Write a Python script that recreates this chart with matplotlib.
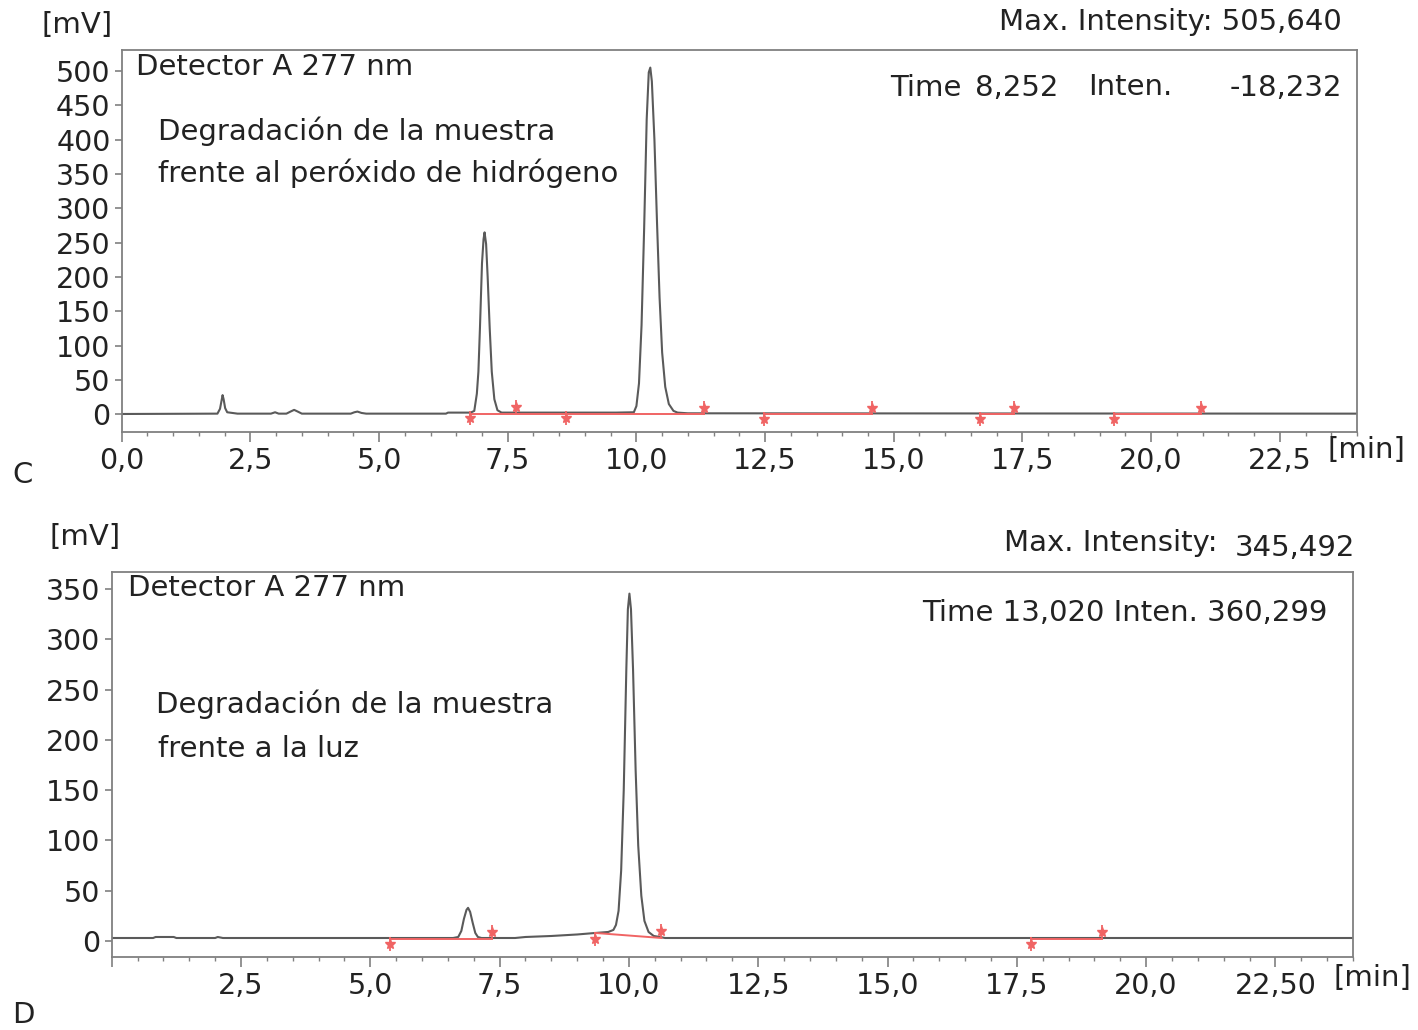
import matplotlib
matplotlib.use("Agg")
import matplotlib.pyplot as plt
import matplotlib.transforms as mtransforms
from matplotlib.ticker import MultipleLocator

# ---- panel C: peroxide degradation ----
t_c = [0.0, 1.86, 1.91, 1.94, 1.96, 1.98, 2.01, 2.05, 2.15, 2.25, 2.9, 2.98, 3.05, 3.2,
       3.28, 3.35, 3.42, 3.5, 4.45, 4.52, 4.58, 4.66, 4.75, 6.3, 6.34, 6.78, 6.85, 6.90,
       6.93, 6.96, 7.0, 7.03, 7.05, 7.08, 7.11, 7.15, 7.19, 7.24, 7.30, 7.38, 9.6, 9.95,
       10.0, 10.05, 10.1, 10.15, 10.2, 10.24, 10.27, 10.3, 10.35, 10.4, 10.45, 10.5, 10.56,
       10.63, 10.72, 10.8, 11.0, 24.0]
mv_c = [0.5, 1, 8, 20, 28, 22, 9, 3, 2, 1, 1, 3, 1, 1,
        4, 6.5, 4, 1, 1, 3, 4, 2, 1, 1, 2.5, 2.5, 5, 30,
        62, 125, 220, 255, 265, 248, 200, 125, 62, 22, 6, 2.5, 2.5, 3,
        12, 45, 130, 270, 430, 498, 505, 485, 400, 280, 170, 90, 40,
        15, 5, 2.5, 1.5, 1.0]
red_c_segments = [(6.77, 11.31), (12.47, 14.58), (16.67, 17.34), (19.28, 20.96)]
red_c_level = [0.0, 0.0, 0.0, 0.0]
start_c = [6.77, 8.63, 12.47, 16.67, 19.28]
end_c = [7.67, 11.31, 14.58, 17.34, 20.96]
xlabels_c = ["0,0", "2,5", "5,0", "7,5", "10,0", "12,5", "15,0", "17,5", "20,0", "22,5"]
yticks_c = [0, 50, 100, 150, 200, 250, 300, 350, 400, 450, 500]

# ---- panel D: light degradation ----
t_d = [0.0, 0.8, 0.85, 1.2, 1.25, 2.0, 2.05, 2.15, 6.6, 6.7, 6.76,
       6.81, 6.86, 6.89, 6.93, 6.98, 7.03, 7.08, 7.15, 7.8, 8.0, 8.5, 9.0, 9.35, 9.6, 9.7,
       9.75, 9.8, 9.85, 9.9, 9.95, 9.98, 10.01, 10.04, 10.08, 10.13, 10.18, 10.24, 10.3,
       10.38, 10.48, 10.6, 10.7, 24.0]
mv_d = [3, 3, 4, 4, 3, 3, 4, 3, 3, 4, 10,
        22, 31, 33, 29, 18, 8, 4, 3, 3, 4, 5, 6.5, 8, 9, 11,
        16, 30, 70, 150, 270, 330, 345.5, 330, 270, 170, 95, 45, 20,
        9, 5, 4, 3, 3]
red_d_segments = [(5.38, 7.35), (9.35, 10.63), (17.77, 19.14)]
red_d_start_level = [2.0, 8.0, 2.0]
red_d_end_level = [2.0, 3.0, 2.0]
start_d = [5.38, 9.35, 17.77]
end_d = [7.35, 10.63, 19.14]
xlabels_d = ["", "2,5", "5,0", "7,5", "10,0", "12,5", "15,0", "17,5", "20,0", "22,50"]
yticks_d = [0, 50, 100, 150, 200, 250, 300, 350]

W, H = 1418, 1030
fig = plt.figure(figsize=(W / 100, H / 100), dpi=100)
plt.rcParams['font.family'] = ['DejaVu Sans']

TRACE = "#5a5a5a"
RED = "#f06464"
SPINE = "#808080"
TXT = "#222222"
FS = 20.5


def px(x, y):
    return x / W, 1 - y / H


def style_axes(ax, ylim, yticks, xlabels):
    ax.set_xlim(0, 24.0)
    ax.set_ylim(*ylim)
    ax.set_xticks([2.5 * i for i in range(len(xlabels))])
    ax.set_xticklabels(xlabels)
    ax.xaxis.set_minor_locator(MultipleLocator(0.5))
    ax.set_yticks(yticks)
    ax.set_yticklabels([str(v) for v in yticks])
    for s in ax.spines.values():
        s.set_color(SPINE)
        s.set_linewidth(1.3)
    ax.tick_params(axis="x", which="major", length=7, width=1.2, color=SPINE,
                   labelsize=FS, labelcolor=TXT, pad=4)
    ax.tick_params(axis="x", which="minor", length=3, width=1, color=SPINE)
    ax.tick_params(axis="y", which="major", length=5, width=1.2, color=SPINE,
                   labelsize=FS, labelcolor=TXT, pad=3)


def draw_marks(ax, times, t, mv, up):
    off = mtransforms.offset_copy(ax.transData, fig=fig, x=0, y=(4 if up else -4), units="points")
    ys = []
    for tm in times:
        j = min(range(len(t)), key=lambda k: abs(t[k] - tm))
        ys.append(min(mv[j], 8))
    ax.plot(times, ys, linestyle="none", marker="|", markersize=10, color=RED,
            markeredgewidth=1.3, transform=off, zorder=4, clip_on=False)
    ax.plot(times, ys, linestyle="none", marker="*", markersize=7, color=RED,
            transform=off, zorder=4, clip_on=False)


# top panel
ax1 = fig.add_axes([121.7 / W, 1 - 431.7 / H, (1357 - 121.7) / W, (431.7 - 50) / H])
ax1.plot(t_c, mv_c, color=TRACE, lw=1.5, zorder=2)
for (a, b), lev in zip(red_c_segments, red_c_level):
    ax1.plot([a, b], [lev, lev], color=RED, lw=1.4, zorder=3)
draw_marks(ax1, start_c, t_c, mv_c, up=False)
draw_marks(ax1, end_c, t_c, mv_c, up=True)
style_axes(ax1, (-25.3, 530.6), yticks_c, xlabels_c)

# bottom panel
ax2 = fig.add_axes([111.7 / W, 1 - 957 / H, (1353 - 111.7) / W, (957 - 572) / H])
ax2.plot(t_d, mv_d, color=TRACE, lw=1.5, zorder=2)
for (a, b), l0, l1 in zip(red_d_segments, red_d_start_level, red_d_end_level):
    ax2.plot([a, b], [l0, l1], color=RED, lw=1.4, zorder=3)
draw_marks(ax2, start_d, t_d, mv_d, up=False)
draw_marks(ax2, end_d, t_d, mv_d, up=True)
style_axes(ax2, (-15.9, 367), yticks_d, xlabels_d)

# texts, top
kw = dict(fontsize=FS + 0.5, color=TXT, va="center")
fig.text(*px(42, 25), "[mV]", ha="left", **kw)
fig.text(*px(1342, 22), "Max. Intensity: 505,640", ha="right", **kw)
fig.text(*px(136, 67), "Detector A 277 nm", ha="left", **kw)
fig.text(*px(890, 88), "Time", ha="left", **kw)
fig.text(*px(975, 88), "8,252", ha="left", **kw)
fig.text(*px(1088, 87), "Inten.", ha="left", **kw)
fig.text(*px(1342, 88), "-18,232", ha="right", **kw)
fig.text(*px(158, 131), "Degradación de la muestra", ha="left", **kw)
fig.text(*px(158, 173), "frente al peróxido de hidrógeno", ha="left", **kw)
fig.text(*px(1328, 450), "[min]", ha="left", **kw)
fig.text(*px(12, 475), "C", ha="left", **kw)

# texts, bottom
fig.text(*px(50, 537), "[mV]", ha="left", **kw)
fig.text(*px(1218, 543), "Max. Intensity:", ha="right", **kw)
fig.text(*px(1355, 548), "345,492", ha="right", **kw)
fig.text(*px(128, 588), "Detector A 277 nm", ha="left", **kw)
fig.text(*px(1328, 613), "Time 13,020 Inten. 360,299", ha="right", **kw)
fig.text(*px(156, 704), "Degradación de la muestra", ha="left", **kw)
fig.text(*px(158, 749), "frente a la luz", ha="left", **kw)
fig.text(*px(1333, 978), "[min]", ha="left", **kw)
fig.text(*px(12, 1015), "D", ha="left", **kw)

fig.savefig("out.png", dpi=100, facecolor="white")
